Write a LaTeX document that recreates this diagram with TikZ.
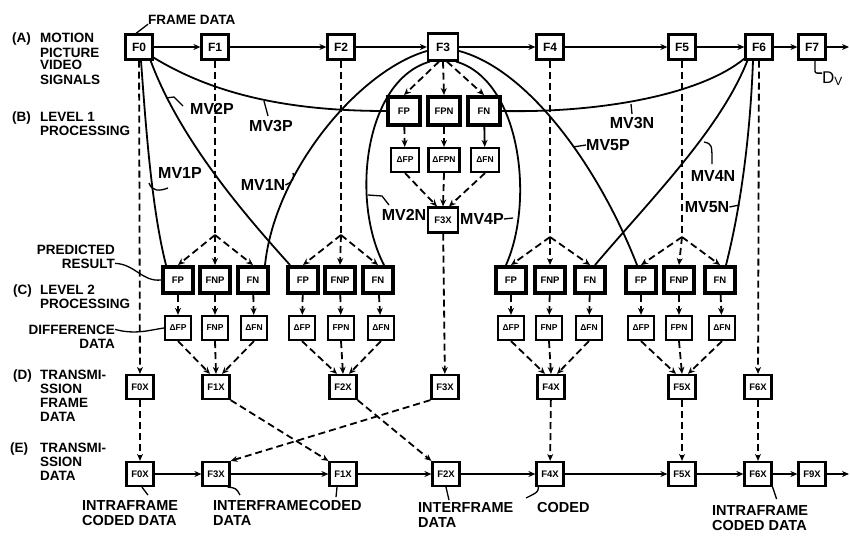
\documentclass[tikz,border=0pt]{standalone}
\usepackage{fontspec}
\setmainfont{Liberation Sans}
\usetikzlibrary{arrows.meta,calc}
\begin{document}
\begin{tikzpicture}[x=1pt,y=-1pt,
  fbox/.style={draw,line width=2.2pt,minimum width=27pt,minimum height=25pt,inner sep=0pt,font=\bfseries\fontsize{12}{12}\selectfont},
  pbox/.style={draw,line width=4pt,minimum width=30pt,minimum height=26pt,inner sep=0pt,font=\bfseries\fontsize{9.5}{10}\selectfont},
  dbox/.style={draw,line width=2.2pt,minimum width=26pt,minimum height=24pt,inner sep=0pt,font=\bfseries\fontsize{8.5}{9}\selectfont},
  xbox/.style={draw,line width=2.2pt,minimum width=27pt,minimum height=24pt,inner sep=0pt,font=\bfseries\fontsize{9.5}{10}\selectfont},
  lbl/.style={font=\bfseries\fontsize{13.5}{13.5}\selectfont,inner sep=0pt,anchor=base west},
  lblr/.style={font=\bfseries\fontsize{13.5}{13.5}\selectfont,inner sep=0pt,anchor=base east},
  blbl/.style={font=\bfseries\fontsize{14.5}{14.5}\selectfont,inner sep=0pt,anchor=base west},
  mv/.style={font=\bfseries\fontsize{16}{16}\selectfont,inner sep=0pt},
  conn/.style={line width=1.8pt},
  dsh/.style={line width=1.8pt,dash pattern=on 7pt off 4pt},
  arr/.style={-{Stealth[length=7pt,width=6pt]}},
  lead/.style={line width=1.3pt}
]
\useasboundingbox (0,0) rectangle (850,535);
\fill[white] (0,0) rectangle (850,535);

% ---------- row A ----------
\node[fbox] (F0) at (139,47) {F0};
\node[fbox] (F1) at (215,47) {F1};
\node[fbox] (F2) at (341,47) {F2};
\node[fbox,minimum width=30pt,minimum height=27pt] (F3) at (443,47) {F3};
\node[fbox] (F4) at (550,47) {F4};
\node[fbox] (F5) at (682,47) {F5};
\node[fbox] (F6) at (759,47) {F6};
\node[fbox] (F7) at (812,47) {F7};
\coordinate (aend) at (849,47);
\foreach \a/\b in {F0/F1,F1/F2,F2/F3,F3/F4,F4/F5,F5/F6,F6/F7,F7/aend}
  \draw[conn,arr] (\a) -- (\b);

% ---------- level 1 ----------
\node[pbox,minimum width=32pt,minimum height=28pt] (fp) at (404,111) {FP};
\node[pbox,minimum width=32pt,minimum height=28pt] (fpn) at (444,111) {FPN};
\node[pbox,minimum width=32pt,minimum height=28pt] (fn) at (484,111) {FN};
\node[dbox,minimum width=28pt] (dfp) at (405,160) {ΔFP};
\node[dbox,minimum width=31pt] (dfpn) at (444,160) {ΔFPN};
\node[dbox,minimum width=28pt] (dfn) at (485,160) {ΔFN};
\node[xbox,minimum width=30pt,minimum height=25pt] (f3x) at (443,220) {F3X};

% ---------- level 2 ----------
\node[pbox] (g1fp) at (178,280) {FP};
\node[pbox] (g1fnp) at (215,280) {FNP};
\node[pbox] (g1fn) at (253,280) {FN};
\node[pbox] (g2fp) at (303,280) {FP};
\node[pbox] (g2fnp) at (340,280) {FNP};
\node[pbox] (g2fn) at (378,280) {FN};
\node[pbox] (g4fp) at (511,280) {FP};
\node[pbox] (g4fnp) at (550,280) {FNP};
\node[pbox] (g4fn) at (590,280) {FN};
\node[pbox] (g5fp) at (641,280) {FP};
\node[pbox] (g5fnp) at (679,280) {FNP};
\node[pbox] (g5fn) at (720,280) {FN};

\node[dbox] (g1d1) at (178,328) {ΔFP};
\node[dbox] (g1d2) at (215,328) {FNP};
\node[dbox] (g1d3) at (254,328) {ΔFN};
\node[dbox] (g2d1) at (302,328) {ΔFP};
\node[dbox] (g2d2) at (341,328) {FPN};
\node[dbox] (g2d3) at (381,328) {ΔFN};
\node[dbox] (g4d1) at (511,328) {ΔFP};
\node[dbox] (g4d2) at (549,328) {FNP};
\node[dbox] (g4d3) at (589,328) {ΔFN};
\node[dbox] (g5d1) at (641,328) {ΔFP};
\node[dbox] (g5d2) at (679,328) {FPN};
\node[dbox] (g5d3) at (722,328) {ΔFN};

\coordinate (s1) at (215,235);
\coordinate (s2) at (341,235);
\coordinate (s4) at (550,237);
\coordinate (s5) at (682,237);

% ---------- row D ----------
\node[xbox] (d0) at (140,387) {F0X};
\node[xbox] (d1) at (216,387) {F1X};
\node[xbox] (d2) at (343,387) {F2X};
\node[xbox] (d3) at (445,387) {F3X};
\node[xbox] (d4) at (551,387) {F4X};
\node[xbox] (d5) at (682,387) {F5X};
\node[xbox] (d6) at (758,387) {F6X};

% ---------- row E ----------
\node[xbox] (e0) at (140,474) {F0X};
\node[xbox] (e3) at (216,474) {F3X};
\node[xbox] (e1) at (343,474) {F1X};
\node[xbox] (e2) at (446,474) {F2X};
\node[xbox] (e4) at (550,474) {F4X};
\node[xbox] (e5) at (682,474) {F5X};
\node[xbox] (e6) at (758,474) {F6X};
\node[xbox] (e9) at (812,474) {F9X};
\coordinate (eend) at (849,474);
\foreach \a/\b in {e0/e3,e3/e1,e1/e2,e2/e4,e4/e5,e5/e6,e6/e9,e9/eend}
  \draw[conn,arr] (\a) -- (\b);

% ---------- dashed flows ----------
\draw[dsh,arr] (F0) -- (d0);
\draw[dsh,arr] (F6) -- (d6);
\foreach \f/\s/\g in {F1/s1/g1,F2/s2/g2,F4/s4/g4,F5/s5/g5}{
  \draw[dsh] (\f.south) -- (\s);
  \draw[dsh,arr] (\s) -- (\g fp.north);
  \draw[dsh,arr] (\s) -- (\g fnp.north);
  \draw[dsh,arr] (\s) -- (\g fn.north);
  \draw[dsh,arr] (\g fp) -- (\g d1);
  \draw[dsh,arr] (\g fnp) -- (\g d2);
  \draw[dsh,arr] (\g fn) -- (\g d3);
}
\foreach \g/\d in {g1/d1,g2/d2,g4/d4,g5/d5}{
  \draw[dsh,arr] (\g d1.south) -- ($(\d.north)+(-6,0)$);
  \draw[dsh,arr] (\g d2.south) -- (\d.north);
  \draw[dsh,arr] (\g d3.south) -- ($(\d.north)+(6,0)$);
}
\draw[dsh,arr] ($(F3.south)+(-4,0)$) -- (fp.north);
\draw[dsh,arr] (F3.south) -- (fpn.north);
\draw[dsh,arr] ($(F3.south)+(4,0)$) -- (fn.north);
\draw[dsh,arr] (fp) -- (dfp);
\draw[dsh,arr] (fpn) -- (dfpn);
\draw[conn,arr] (fn) -- (dfn);
\draw[dsh,arr] (dfp.south) -- ($(f3x.north)+(-6,0)$);
\draw[dsh,arr] (dfpn.south) -- (f3x.north);
\draw[dsh,arr] (dfn.south) -- ($(f3x.north)+(6,0)$);
\draw[dsh,arr] (f3x) -- (d3);

\draw[dsh,arr] (d0) -- (e0);
\draw[dsh,arr] (d1.south east) -- (e1.north west);
\draw[dsh,arr] (d2.south east) -- (e2.north west);
\draw[dsh,arr] (d3.south west) -- (e3.north east);
\draw[dsh,arr] (d4) -- (e4);
\draw[dsh,arr] (d5) -- (e5);
\draw[dsh,arr] (d6) -- (e6);

% ---------- motion vector curves ----------
\draw[conn] ($(F0.south)+(2,0)$) .. controls (146,130) and (152,210) .. ($(g1fp.north west)+(5,0)$);
\draw[conn] ($(F0.south east)+(-3,0)$) .. controls (180,140) and (245,215) .. ($(g2fp.north west)+(4,0)$);
\draw[conn] ($(F0.south east)+(0,-3)$) .. controls (215,95) and (290,111) .. (fp.west);
\draw[conn] ($(F3.west)+(0,4)$) .. controls (360,70) and (275,170) .. ($(g1fn.north east)+(-5,0)$);
\draw[conn] ($(F3.south west)+(3,0)$) .. controls (365,80) and (350,200) .. ($(g2fn.north)+(6,0)$);
\draw[conn] ($(F3.south east)+(-3,0)$) .. controls (520,80) and (535,200) .. ($(g4fp.north)+(-5,0)$);
\draw[conn] ($(F3.east)+(0,4)$) .. controls (530,70) and (600,170) .. ($(g5fp.north)+(-4,0)$);
\draw[conn] (fn.east) .. controls (600,113) and (700,95) .. ($(F6.south west)+(0,-2)$);
\draw[conn] ($(F6.south west)+(3,0)$) .. controls (720,130) and (650,200) .. ($(g4fn.north)+(5,0)$);
\draw[conn] ($(F6.south)+(-6,0)$) .. controls (750,140) and (740,210) .. ($(g5fn.north)+(6,0)$);

% ---------- MV labels ----------
\node[mv] (mv1p) at (180,173) {MV1P};
\node[mv] (mv2p) at (212,109) {MV2P};
\node[mv] (mv3p) at (271,126) {MV3P};
\node[mv] (mv1n) at (263,185) {MV1N};
\node[mv] (mv2n) at (404,215) {MV2N};
\node[mv] (mv4p) at (482,219) {MV4P};
\node[mv] (mv5p) at (608,145) {MV5P};
\node[mv] (mv3n) at (632,123) {MV3N};
\node[mv] (mv4n) at (713,176) {MV4N};
\node[mv] (mv5n) at (707,207) {MV5N};
\draw[lead] (149,183) .. controls (152,192) and (160,191) .. (168,188);
\draw[lead] (166,98) -- (174,97) -- (183,106);
\draw[lead] (264,101) -- (268,116);
\draw[lead] (mv1n.east) .. controls (292,183) and (295,177) .. (293,173);
\draw[lead] (368,195) -- (382,196) -- (389,205);
\draw[lead] (mv4p.east) -- ++(9,-1);
\draw[lead] (573,147) -- (mv5p.west);
\draw[lead] (631,104) -- (632,114);
\draw[lead] (704,142) .. controls (712,144) .. (712,164);
\draw[lead] (mv5n.east) -- ++(10,-2);

% ---------- left labels ----------
\node[lbl] (la0) at (12,43) {(A)};
\node[lbl] (la1) at (40,43) {MOTION};
\node[lbl] (la2) at (40,57) {PICTURE};
\node[lbl] (la3) at (40,70) {VIDEO};
\node[lbl] (la4) at (40,84) {SIGNALS};
\node[lbl] (fdata) at (148,25) {FRAME DATA};
\draw[lead] ($(fdata.south west)+(0,-1)$) -- ($(F0.north)+(-3,0)$);
\node[lbl] (lb0) at (12,121) {(B)};
\node[lbl] (lb1) at (40,121) {LEVEL 1};
\node[lbl] (lb2) at (40,135) {PROCESSING};
\node[lblr] (pred) at (115,254) {PREDICTED};
\node[lblr] (result) at (115,268) {RESULT};
\draw[lead] (result.east) .. controls (135,264) and (142,282) .. (g1fp.west);
\node[lbl] (lc0) at (13,294) {(C)};
\node[lbl] (lc1) at (40,294) {LEVEL 2};
\node[lbl] (lc2) at (40,308) {PROCESSING};
\node[lblr] (diff) at (115,334) {DIFFERENCE};
\node[lblr] (diff2) at (115,348) {DATA};
\draw[lead] (diff.east) .. controls (135,335) and (150,330) .. (g1d1.west);
\node[lbl] (ld0) at (13,379) {(D)};
\node[lbl] (ld1) at (40,379) {TRANSMI-};
\node[lbl] (ld2) at (40,393) {SSION};
\node[lbl] (ld3) at (40,407) {FRAME};
\node[lbl] (ld4) at (40,421) {DATA};
\node[lbl] (le0) at (10,452) {(E)};
\node[lbl] (le1) at (40,452) {TRANSMI-};
\node[lbl] (le2) at (40,466) {SSION};
\node[lbl] (le3) at (40,480) {DATA};

% ---------- bottom labels ----------
\node[blbl] (b1) at (82,510) {INTRAFRAME};
\node[blbl] (b2) at (82,525) {CODED DATA};
\draw[lead] ($(e0.south)+(2,0)$) -- ++(6,8);
\node[blbl] (b3) at (213,510) {INTERFRAME};
\node[blbl] (b4) at (213,525) {DATA};
\draw[lead] ($(e3.south east)+(-3,0)$) .. controls (236,488) .. (240,495);
\node[blbl] (b5) at (309,510) {CODED};
\draw[lead] ($(e1.south)+(-6,0)$) -- ++(-1,10);
\node[blbl] (b6) at (418,512) {INTERFRAME};
\node[blbl] (b7) at (418,527) {DATA};
\draw[lead] (e2.south) -- ++(3,13);
\node[blbl] (b8) at (537,512) {CODED};
\draw[lead] ($(e4.south west)+(3,0)$) .. controls (538,492) .. (526,498);
\node[blbl] (b9) at (712,515) {INTRAFRAME};
\node[blbl] (b10) at (712,530) {CODED DATA};
\draw[lead] ($(e6.south east)+(0,0)$) -- ++(4,12);

% ---------- Dv ----------
\node[font=\fontsize{17}{17}\selectfont,inner sep=0pt,anchor=base west] (dv) at (822,83) {D\textsubscript{V}};
\draw[lead,rounded corners=2pt] ($(F7.south)+(3,0)$) |- ($(dv.north west)+(0,2)$);
\end{tikzpicture}
\end{document}
